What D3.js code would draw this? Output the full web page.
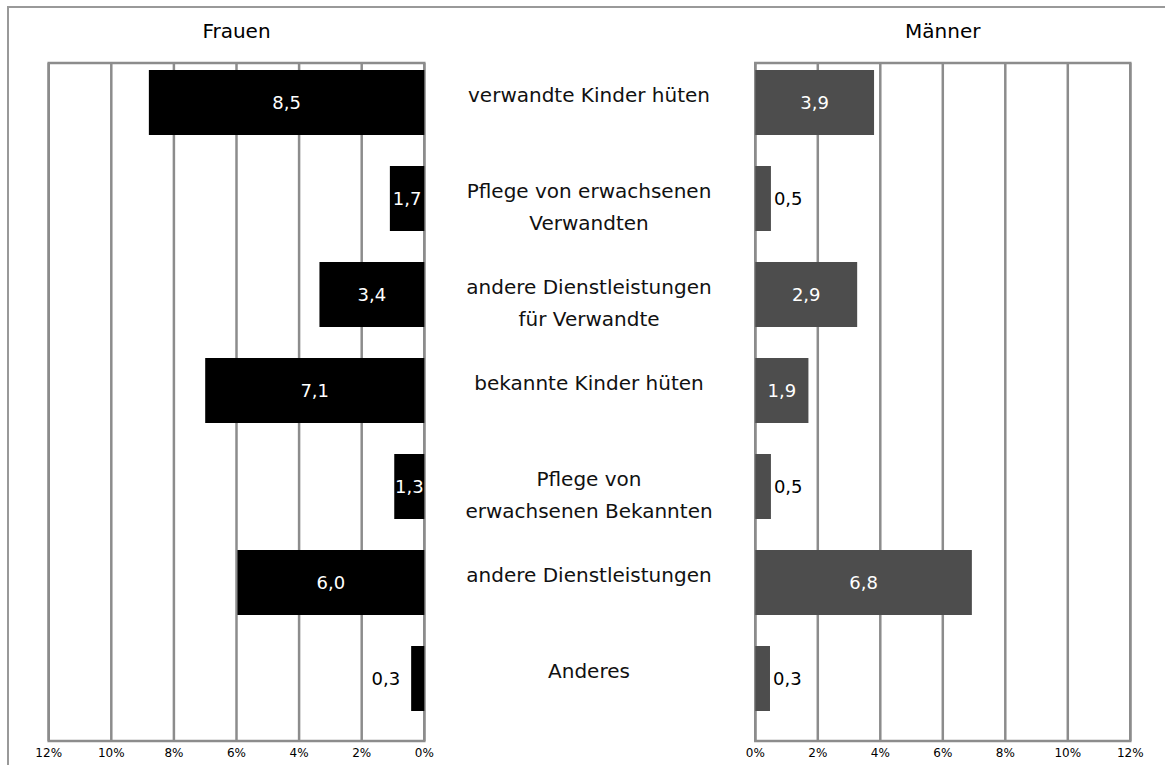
<!DOCTYPE html>
<html>
<head>
<meta charset="utf-8">
<script src="https://cdn.jsdelivr.net/npm/d3@7"></script>
<style>
  body { margin: 0; background: #fff; }
  text { font-family: "DejaVu Sans", sans-serif; }
</style>
</head>
<body>
<script>
var w = 1165;
var h = 765;

var categories = [
    ["verwandte Kinder hüten"],
    ["Pflege von erwachsenen", "Verwandten"],
    ["andere Dienstleistungen", "für Verwandte"],
    ["bekannte Kinder hüten"],
    ["Pflege von", "erwachsenen Bekannten"],
    ["andere Dienstleistungen"],
    ["Anderes"]
];
// printed values
var frauen = [8.5, 1.7, 3.4, 7.1, 1.3, 6.0, 0.3];
var maenner = [3.9, 0.5, 2.9, 1.9, 0.5, 6.8, 0.3];
// bar lengths as drawn in the picture (they differ a bit from the printed values)
var frauenBars = [8.8, 1.1, 3.35, 7.0, 0.96, 5.97, 0.42];
var maennerBars = [3.8, 0.5, 3.26, 1.7, 0.5, 6.93, 0.47];
var ticks = [0, 2, 4, 6, 8, 10, 12];

var svg = d3.select("body")
    .append("svg")
    .attr("width", w)
    .attr("height", h);

// outer frame
svg.append("path")
    .attr("d", "M8,765 V7 H1165")
    .attr("fill", "none")
    .attr("stroke", "#999")
    .attr("stroke-width", 2);

var plotTop = 63, plotBottom = 741;

var y = d3.scaleBand()
    .domain(d3.range(categories.length))
    .range([54.5, 726.5])
    .paddingInner(0.323)
    .paddingOuter(0.1615);

var xL = d3.scaleLinear().domain([0, 12]).range([424.3, 48.7]);
var xR = d3.scaleLinear().domain([0, 12]).range([755.3, 1130.3]);

function fmt(v) { return d3.format(".1f")(v).replace(".", ","); }

function panel(x, vals, bars, color, title, side) {
    var g = svg.append("g");
    // grid lines
    g.selectAll("line.grid")
        .data(ticks)
        .enter()
        .append("line")
        .attr("x1", function(d){ return x(d); })
        .attr("x2", function(d){ return x(d); })
        .attr("y1", plotTop)
        .attr("y2", plotBottom)
        .attr("stroke", "#8c8c8c")
        .attr("stroke-width", 2.5);
    g.append("rect")
        .attr("x", Math.min(x(0), x(12)))
        .attr("y", plotTop)
        .attr("width", Math.abs(x(12) - x(0)))
        .attr("height", plotBottom - plotTop)
        .attr("fill", "none")
        .attr("stroke", "#8c8c8c")
        .attr("stroke-width", 2.5);

    // tick labels
    g.selectAll("text.tick")
        .data(ticks)
        .enter()
        .append("text")
        .attr("x", function(d){ return x(d); })
        .attr("y", 757)
        .attr("text-anchor", "middle")
        .attr("font-size", 12)
        .attr("fill", "#000")
        .text(function(d){ return d + "%"; });

    g.append("text")
        .attr("x", (x(0) + x(12)) / 2)
        .attr("y", 38)
        .attr("text-anchor", "middle")
        .attr("font-size", 20)
        .text(title);

    // bars
    g.selectAll("rect.bar")
        .data(bars)
        .enter()
        .append("rect")
        .attr("x", function(d){ return Math.min(x(0), x(d)); })
        .attr("y", function(d, i){ return y(i); })
        .attr("width", function(d){ return Math.abs(x(d) - x(0)); })
        .attr("height", y.bandwidth())
        .attr("fill", color);

    // value labels
    g.selectAll("text.val")
        .data(vals)
        .enter()
        .append("text")
        .attr("font-size", 18)
        .attr("dy", "0.36em")
        .attr("y", function(d, i){ return y(i) + y.bandwidth() / 2; })
        .each(function(d, i){
            var len = Math.abs(x(bars[i]) - x(0));
            var t = d3.select(this).text(fmt(d));
            if (len >= 28) {
                t.attr("x", (x(0) + x(bars[i])) / 2)
                 .attr("text-anchor", "middle")
                 .attr("fill", "#fff");
            } else if (side === "left") {
                t.attr("x", x(bars[i]) - 11)
                 .attr("text-anchor", "end")
                 .attr("fill", "#000");
            } else {
                t.attr("x", x(bars[i]) + 3)
                 .attr("text-anchor", "start")
                 .attr("fill", "#000");
            }
        });
}

panel(xL, frauen, frauenBars, "#000", "Frauen", "left");
panel(xR, maenner, maennerBars, "#4d4d4d", "Männer", "right");

// category labels
svg.selectAll("text.cat")
    .data(categories)
    .enter()
    .append("text")
    .attr("text-anchor", "middle")
    .attr("font-size", 20)
    .attr("fill", "#111")
    .each(function(d, i){
        var t = d3.select(this);
        d.forEach(function(line, j){
            t.append("tspan")
                .attr("x", 589)
                .attr("y", y(i) + y.bandwidth() / 2 - 1 + j * 32)
                .text(line);
        });
    });
</script>
</body>
</html>
